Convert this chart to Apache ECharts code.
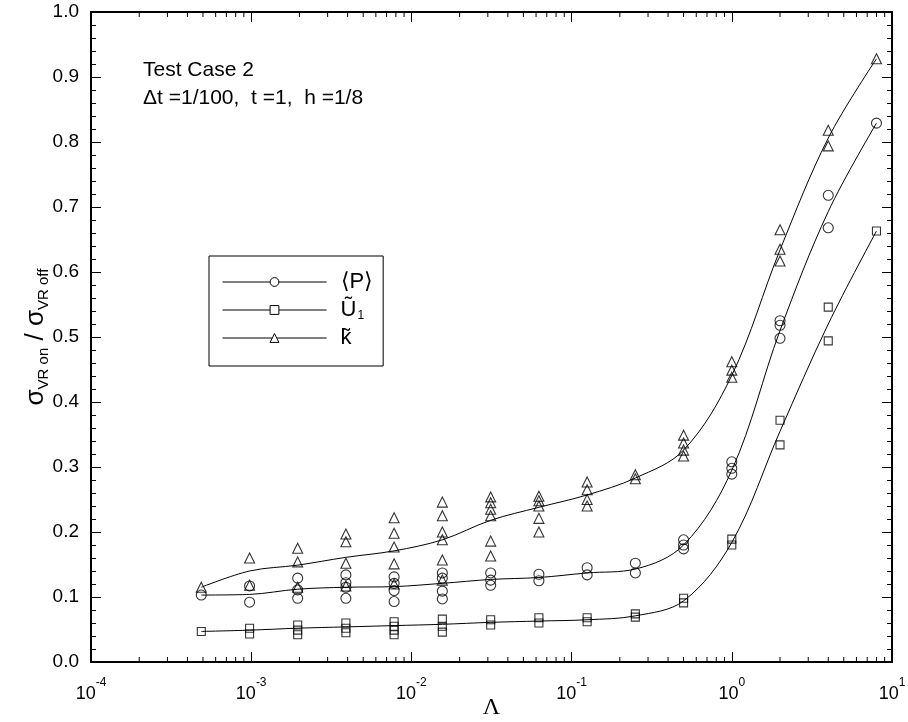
<!DOCTYPE html>
<html>
<head>
<meta charset="utf-8">
<script src="https://cdn.jsdelivr.net/npm/echarts@6/dist/echarts.min.js"></script>
<style>
  html, body { margin: 0; padding: 0; background: #fff; }
  #chart { width: 908px; height: 722px; }
</style>
</head>
<body>
<div id="chart"></div>
<script>
// Lambda values (powers of two from 2^-11 to 2^3)
var lambdas = [0.000488, 0.000977, 0.00195, 0.0039, 0.0078, 0.0156, 0.03125, 0.0625, 0.125, 0.25, 0.5, 1, 2, 4, 8];

// scatter samples for each lambda
var pPoints = [[0.103], [0.117, 0.092], [0.129, 0.111, 0.098], [0.134, 0.122, 0.115, 0.098],
    [0.131, 0.121, 0.110, 0.093], [0.137, 0.129, 0.109, 0.097], [0.137, 0.126, 0.118], [0.135, 0.125],
    [0.145, 0.134], [0.152, 0.137], [0.188, 0.180, 0.174], [0.308, 0.298, 0.289], [0.525, 0.518, 0.498],
    [0.718, 0.668], [0.829]];
var uPoints = [[0.047], [0.052, 0.043], [0.057, 0.049, 0.042], [0.060, 0.052, 0.045],
    [0.062, 0.055, 0.049, 0.042], [0.066, 0.055, 0.046], [0.065, 0.057], [0.068, 0.060],
    [0.068, 0.062], [0.074, 0.069], [0.098, 0.091], [0.189, 0.180], [0.372, 0.334], [0.546, 0.494], [0.663]];
var kPoints = [[0.115], [0.160, 0.118], [0.175, 0.154, 0.115], [0.197, 0.185, 0.152, 0.117],
    [0.222, 0.198, 0.177, 0.151, 0.120], [0.246, 0.225, 0.200, 0.188, 0.157, 0.126],
    [0.254, 0.245, 0.235, 0.225, 0.186, 0.163], [0.255, 0.248, 0.240, 0.221, 0.200],
    [0.277, 0.265, 0.250, 0.240], [0.288, 0.282], [0.349, 0.337, 0.326, 0.317], [0.462, 0.449, 0.438],
    [0.665, 0.635, 0.617], [0.818, 0.794], [0.928]];

// fitted curves
var pCurve = [0.103, 0.104, 0.112, 0.115, 0.116, 0.121, 0.127, 0.130, 0.137, 0.143, 0.180, 0.295, 0.510, 0.693, 0.829];
var uCurve = [0.047, 0.049, 0.052, 0.054, 0.056, 0.058, 0.061, 0.063, 0.065, 0.071, 0.094, 0.184, 0.355, 0.520, 0.663];
var kCurve = [0.115, 0.140, 0.149, 0.161, 0.171, 0.188, 0.218, 0.238, 0.257, 0.283, 0.326, 0.441, 0.634, 0.806, 0.928];

var FONT = 'Liberation Sans, Arial, sans-serif';

function pairs(xs, ys) {
    return xs.map(function (x, i) { return [x, ys[i]]; });
}
function flatPoints(xs, groups) {
    var out = [];
    groups.forEach(function (g, i) {
        g.forEach(function (v) { out.push([xs[i], v]); });
    });
    return out;
}

// log minor ticks 2..9 in each decade
var minorX = [];
for (var e = -4; e < 1; e++) {
    for (var m = 2; m <= 9; m++) minorX.push([m * Math.pow(10, e), 0]);
}

var chart = echarts.init(document.getElementById('chart'));

var lineSeries = function (name, curve, symbol) {
    return {
        name: name,
        type: 'line',
        data: pairs(lambdas, curve),
        smooth: 0.35,
        symbol: symbol,
        showSymbol: false,
        lineStyle: { color: '#000', width: 1 },
        itemStyle: { color: '#fff', borderColor: '#000', borderWidth: 1 },
        emphasis: { disabled: true },
        z: 3
    };
};
var pointSeries = function (name, groups, symbol, size) {
    return {
        name: name,
        type: 'scatter',
        data: flatPoints(lambdas, groups),
        symbol: symbol,
        symbolSize: size,
        itemStyle: { color: 'rgba(0,0,0,0)', borderColor: '#000', borderWidth: 1.1 },
        emphasis: { disabled: true },
        z: 4
    };
};

var xLabels = {
    formatter: function (v) {
        var p = Math.round(Math.log10(v));
        return '{b|10}{e|' + p + '}';
    },
    margin: 15,
    rich: {
        b: { fontSize: 18, fontFamily: FONT, color: '#000', lineHeight: 26, verticalAlign: 'bottom' },
        e: { fontSize: 12, fontFamily: FONT, color: '#000', lineHeight: 12, verticalAlign: 'top' }
    }
};

var option = {
    backgroundColor: '#fff',
    animation: false,
    grid: { left: 91, right: 16, top: 12, bottom: 60, outerBoundsMode: 'none', containLabel: false },
    legend: {
        data: ['P', 'U', 'K'],
        orient: 'vertical',
        left: 209,
        top: 256,
        itemWidth: 104,
        itemHeight: 11,
        itemGap: 5,
        padding: [15, 10, 17, 13],
        borderColor: '#000',
        borderWidth: 1,
        selectedMode: false,
        lineStyle: { width: 1, color: '#000' },
        itemStyle: { color: '#fff', borderColor: '#000', borderWidth: 1 },
        formatter: function (n) {
            if (n === 'P') return '{t|\u27E8P\u27E9}';
            if (n === 'U') return '{t|U\u0303}{s|1}';
            return '{t|k\u0303}';
        },
        textStyle: {
            rich: {
                t: { fontSize: 22, fontFamily: FONT, color: '#000', padding: [0, 0, 0, 9], lineHeight: 24 },
                s: { fontSize: 12, fontFamily: FONT, color: '#000', lineHeight: 24, verticalAlign: 'bottom', padding: [12, 0, 0, 1] }
            }
        }
    },
    graphic: [
        { type: 'text', left: 143, top: 60, style: { text: 'Test Case 2', font: '21px ' + FONT, fill: '#000' } },
        { type: 'text', left: 143, top: 88, style: { text: '\u0394t =1/100,  t =1,  h =1/8', font: '21px ' + FONT, fill: '#000' } }
    ],
    xAxis: [{
        type: 'log',
        logBase: 10,
        min: 0.0001,
        max: 10,
        position: 'bottom',
        name: '\u039B',
        nameLocation: 'middle',
        nameGap: 34,
        nameMoveOverlap: false,
        nameTextStyle: { fontSize: 24, fontFamily: 'Liberation Serif, Times New Roman, serif', color: '#000' },
        axisLine: { onZero: false, lineStyle: { color: '#000', width: 2 } },
        axisTick: { inside: true, length: 10, lineStyle: { color: '#000' } },
        splitLine: { show: false },
        axisLabel: xLabels
    }, {
        type: 'log',
        logBase: 10,
        min: 0.0001,
        max: 10,
        position: 'top',
        axisLine: { onZero: false, lineStyle: { color: '#000', width: 2 } },
        axisTick: { inside: true, length: 10, lineStyle: { color: '#000' } },
        splitLine: { show: false },
        axisLabel: { show: false }
    }],
    yAxis: [{
        type: 'value',
        min: 0,
        max: 1,
        interval: 0.1,
        name: '{s|\u03C3}{sub|VR on}{s| / \u03C3}{sub|VR off}',
        nameLocation: 'middle',
        nameGap: 40,
        nameMoveOverlap: false,
        nameTextStyle: {
            rich: {
                s: { fontSize: 26, fontFamily: FONT, color: '#000', lineHeight: 30, verticalAlign: 'middle' },
                sub: { fontSize: 15, fontFamily: FONT, color: '#000', lineHeight: 30, verticalAlign: 'bottom', padding: [12, 0, 0, 0] }
            }
        },
        axisLine: { onZero: false, lineStyle: { color: '#000', width: 2 } },
        axisTick: { inside: true, length: 10, lineStyle: { color: '#000' } },
        minorTick: { show: true, splitNumber: 5, length: 5, lineStyle: { color: '#000' } },
        splitLine: { show: false },
        axisLabel: {
            margin: 12,
            fontSize: 19,
            fontFamily: FONT,
            color: '#000',
            formatter: function (v) { return v.toFixed(1); }
        }
    }, {
        type: 'value',
        min: 0,
        max: 1,
        interval: 0.1,
        position: 'right',
        axisLine: { show: true, onZero: false, lineStyle: { color: '#000', width: 2 } },
        axisTick: { inside: true, length: 10, lineStyle: { color: '#000' } },
        minorTick: { show: true, splitNumber: 5, length: 5, lineStyle: { color: '#000' } },
        splitLine: { show: false },
        axisLabel: { show: false }
    }],
    series: [
        lineSeries('P', pCurve, 'circle'),
        lineSeries('U', uCurve, 'rect'),
        lineSeries('K', kCurve, 'triangle'),
        pointSeries('P pts', pPoints, 'circle', 10),
        pointSeries('U pts', uPoints, 'rect', 8),
        pointSeries('K pts', kPoints, 'triangle', 10),
        {
            type: 'custom',
            name: 'minor ticks',
            data: minorX,
            silent: true,
            clip: false,
            renderItem: function (params, api) {
                var x = api.value(0);
                var b = api.coord([x, 0]);
                var t = api.coord([x, 1]);
                return {
                    type: 'group',
                    children: [
                        { type: 'line', shape: { x1: b[0], y1: b[1], x2: b[0], y2: b[1] - 5 }, style: { stroke: '#000', lineWidth: 1 } },
                        { type: 'line', shape: { x1: t[0], y1: t[1], x2: t[0], y2: t[1] + 5 }, style: { stroke: '#000', lineWidth: 1 } }
                    ]
                };
            }
        }
    ]
};

chart.setOption(option);
</script>
</body>
</html>
